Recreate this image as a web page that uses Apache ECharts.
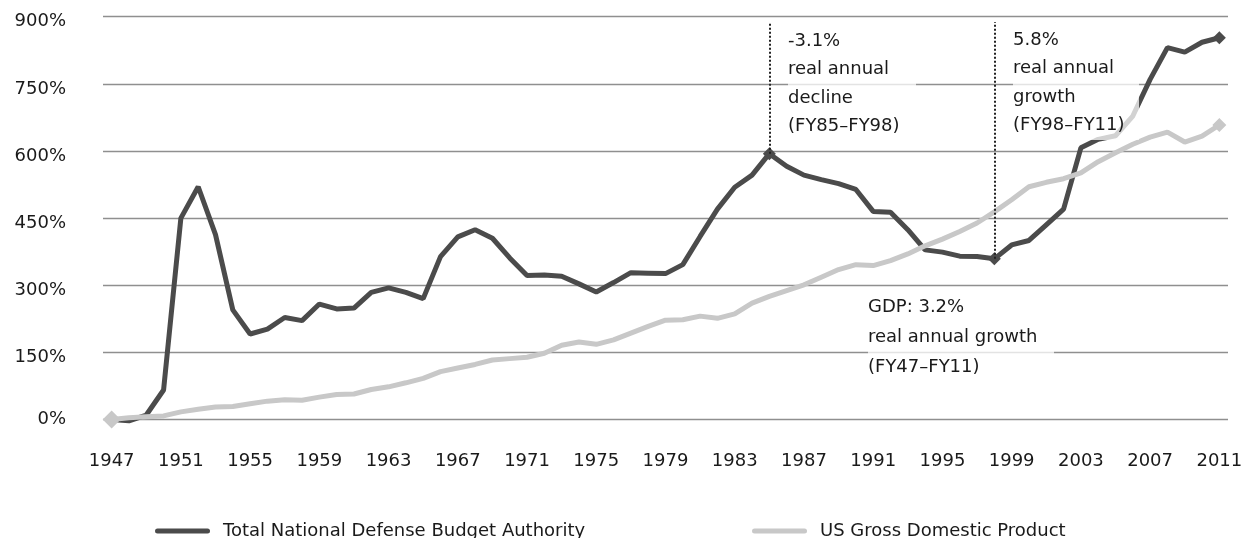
<!DOCTYPE html>
<html>
<head>
<meta charset="utf-8">
<script src="https://cdn.jsdelivr.net/npm/echarts@6/dist/echarts.min.js"></script>
<style>
html,body{margin:0;padding:0;background:#fff;}
#chart{width:1253px;height:538px;}
</style>
</head>
<body>
<div id="chart"></div>
<script>
const years = [];
for (let y = 1947; y <= 2011; y++) years.push(String(y));

const defense = [0,-3,10,66,450,520,413,245,191,202,228,221,258,247,249,284,294,284,270,364,
  408,424,405,361,322,323,320,303,285,306,328,327,326,346,409,470,519,546,594,566,
  546,536,527,514,465,463,424,379,374,365,364,359,390,400,435,470,607,626,634,678,
  760,831,821,843,853];

const gdp = [0,4,6,8,17,23,28,29,35,41,44,43,50,56,57,67,73,82,92,107,
  115,123,133,136,139,148,166,173,168,178,193,208,222,223,231,226,236,260,275,288,
  301,318,335,346,344,355,370,388,403,420,439,464,491,520,530,538,551,576,596,615,
  631,642,620,633,658];

const yTicks = [0,150,300,450,600,750,900];
const defenseMarked = ['1985','1998','2011'];
const gdpMarked = {'1947':18,'2011':14};
const dottedYears = ['1985','1998'];
const dottedTop = 888;

const seriesNames = ['Total National Defense Budget Authority','US Gross Domestic Product'];
const annotations = [
  ['-3.1%','real annual','decline','(FY85\u2013FY98)'],
  ['5.8%','real annual','growth','(FY98\u2013FY11)'],
  ['GDP: 3.2%','real annual growth','(FY47\u2013FY11)']
];

const DARK = '#4b4b4b', LIGHT = '#c8c8c8', FONT = 'DejaVu Sans';

const defData = defense.map((v,i)=> defenseMarked.includes(years[i])
  ? {value:v, symbol:'diamond', symbolSize:13} : {value:v});
const gdpData = gdp.map((v,i)=> gdpMarked[years[i]]
  ? {value:v, symbol:'diamond', symbolSize:gdpMarked[years[i]]} : {value:v});

const markLines = dottedYears.map(y => [
  {coord:[y, defense[years.indexOf(y)]]},
  {coord:[y, dottedTop]}
]);

const legendIcon = 'path://M2.5,0 L52.5,0 A2.5,2.5 0 0 1 52.5,5 L2.5,5 A2.5,2.5 0 0 1 2.5,0 Z';

function annot(lines, left, top, width, lh, name) {
  const h = lines.length * lh;
  return {
    type:'group', left:left, top:top, z:100,
    children:[
      {type:'rect', shape:{x:0,y:0,width:width,height:h}, style:{fill:'rgba(255,255,255,0.75)'}, z:100},
      {type:'text', x:0, y:0, z:101, style:{text:lines.join('\n'), font:'18px "DejaVu Sans"', fill:'#1a1a1a', lineHeight:lh, textVerticalAlign:'top'}}
    ]
  };
}

const chart = echarts.init(document.getElementById('chart'));
chart.setOption({
  animation:false,
  textStyle:{fontFamily:FONT},
  grid:{left:103, right:25, top:16.7, bottom:118.5, containLabel:false},
  legend:[
    {data:[{name:seriesNames[0], icon:legendIcon}], left:150, top:517, itemWidth:55, itemHeight:5,
     textStyle:{fontSize:18, color:'#1a1a1a', fontFamily:FONT, padding:[0,0,0,8]}},
    {data:[{name:seriesNames[1], icon:legendIcon}], left:747, top:517, itemWidth:55, itemHeight:5,
     textStyle:{fontSize:18, color:'#1a1a1a', fontFamily:FONT, padding:[0,0,0,8]}}
  ],
  xAxis:{
    type:'category', data:years, boundaryGap:true,
    axisLine:{show:false}, axisTick:{show:false},
    axisLabel:{interval:3, margin:33, fontSize:18, color:'#1a1a1a', fontFamily:FONT}
  },
  yAxis:{
    type:'value', min:0, max:900, interval:150,
    axisLine:{show:false}, axisTick:{show:false},
    splitLine:{lineStyle:{color:'#8f8f8f', width:1.3}},
    axisLabel:{margin:37, fontSize:18, color:'#1a1a1a', fontFamily:FONT,
      formatter: v => v === 0 ? '{z|0%}' : '{n|' + v + '%}',
      rich:{z:{fontSize:18, fontFamily:FONT, color:'#1a1a1a'}, n:{fontSize:18, fontFamily:FONT, color:'#1a1a1a', padding:[10,0,0,0]}}
    }
  },
  series:[
    {name:seriesNames[0], type:'line', data:defData, symbol:'none', showAllSymbol:true, clip:false,
     color:DARK, itemStyle:{color:DARK}, lineStyle:{color:DARK, width:5}, z:3,
     markLine:{silent:true, symbol:'none', label:{show:false},
       lineStyle:{type:[2,2], color:'#222', width:2}, data:markLines}},
    {name:seriesNames[1], type:'line', data:gdpData, symbol:'none', showAllSymbol:true, clip:false,
     color:LIGHT, itemStyle:{color:LIGHT}, lineStyle:{color:LIGHT, width:5}, z:4}
  ],
  graphic:[
    annot(annotations[0], 788, 27, 128, 28.5),
    annot(annotations[1], 1013, 26, 126, 28.5),
    annot(annotations[2], 868, 292, 186, 30)
  ]
});
</script>
</body>
</html>
